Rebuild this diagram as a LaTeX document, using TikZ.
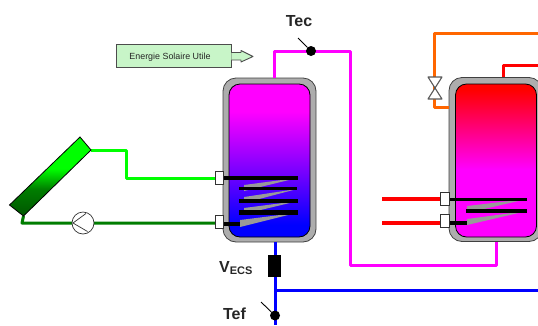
\documentclass[tikz,border=0pt]{standalone}
\usepackage{fontspec}
\setmainfont{Liberation Sans}
\definecolor{puremag}{RGB}{255,0,255}
\definecolor{pipeorange}{RGB}{255,102,0}
\definecolor{pipedark}{RGB}{0,125,0}
\definecolor{pipelight}{RGB}{0,255,0}
\definecolor{panelend}{RGB}{0,90,0}
\definecolor{boxgreen}{RGB}{200,245,200}
\pgfdeclareverticalshading{tankblue}{100bp}{color(0bp)=(blue);color(29bp)=(blue);color(66bp)=(puremag);color(100bp)=(puremag)}
\pgfdeclareverticalshading{tankred}{100bp}{color(0bp)=(puremag);color(47bp)=(puremag);color(73bp)=(red);color(100bp)=(red)}
\pgfdeclareverticalshading{panel}{100bp}{color(0bp)=(panelend);color(27bp)=(panelend);color(42bp)=(pipedark);color(55bp)=(pipelight);color(100bp)=(pipelight)}
\tikzset{
  shell/.style={draw=black!75,line width=0.8pt,fill=black!32,rounded corners=13pt,minimum width=93pt,minimum height=164pt,inner sep=0pt},
  core/.style={draw=black,line width=0.8pt,rounded corners=11pt,minimum width=81pt,inner sep=0pt},
  pipe/.style={line width=3pt,line join=round},
  port/.style={draw=black!80,fill=white,line width=0.7pt,minimum width=8.5pt,minimum height=13pt,inner sep=0pt},
  coilbar/.style={draw=black,line cap=butt},
  coilback/.style={fill=black!40,draw=none},
  probe/.style={circle,fill=black,minimum size=10pt,inner sep=0pt},
  lbl/.style={font=\bfseries\fontsize{16}{16}\selectfont,inner sep=0pt,text=black!85},
  valvepart/.style={draw=black!65,fill=white,line width=1.1pt,line join=round},
}
\begin{document}
\begin{tikzpicture}[x=1pt,y=-1pt]
\useasboundingbox (0,0) rectangle (538,325);
\clip (0,0) rectangle (538,325);
% named points
\coordinate (tecstub) at (274,51);
\coordinate (pa) at (350,51);
\coordinate (pb) at (350,265);
\coordinate (pc) at (496,265);
\coordinate (oa) at (538,33.5);
\coordinate (ob) at (434,33.5);
\coordinate (oc) at (434,107);
\coordinate (ra) at (538,65);
\coordinate (rb) at (503,65);
\coordinate (ca) at (126,150);
\coordinate (cb) at (126,178);
\coordinate (da) at (22,223);
\coordinate (cwa) at (382,199);
\coordinate (cwb) at (382,223);
\coordinate (ba) at (275,290);
\coordinate (bb) at (538,290);
\coordinate (bc) at (275,325);
% tanks
\node[shell] (tankA) at (269.5,160) {};
\node[shell] (tankB) at (495.5,159.5) {};
% pipes behind
\draw[pipe,puremag] (tankA.north -| tecstub) -- (tecstub) -- (pa) -- (pb) -- (pc) -- (tankB.south -| pc);
\draw[pipe,pipeorange] (oa) -- (ob) -- (oc) -- (tankB.west |- oc);
\draw[pipe,red] (ra) -- (rb) -- (tankB.north -| rb);
\draw[pipe,blue] (tankA.south -| ba) -- (bc);
\draw[pipe,blue] (ba) -- (bb);
% tank interiors
\node[core,minimum height=153pt,shading=tankblue] (coreA) at (269.5,160.5) {};
\node[core,minimum height=153pt,shading=tankred] (coreB) at (496,160.5) {};
% coil A
\fill[coilback] (240,220) -- (296,213) -- (240,227) -- cycle;
\fill[coilback] (244,208) -- (298,201) -- (244,214) -- cycle;
\fill[coilback] (244,197) -- (297,189) -- (244,203) -- cycle;
\fill[coilback] (244,185) -- (297,178) -- (244,191) -- cycle;
\draw[coilbar,line width=4pt] (224,177.7) -- (298,177.7);
\draw[coilbar,line width=3pt] (239,188.8) -- (297,188.8);
\draw[coilbar,line width=4pt] (239,200.7) -- (298,200.7);
\draw[coilbar,line width=5pt] (239,212) -- (298,212);
\draw[coilbar,line width=4pt] (224,223.7) -- (240,223.7);
% coil B
\fill[coilback] (467,219) -- (527,211) -- (467,225) -- cycle;
\fill[coilback] (467,206) -- (527,199) -- (467,213) -- cycle;
\draw[coilbar,line width=3pt] (449,199.5) -- (527,199.5);
\draw[coilbar,line width=3.5pt] (466,211) -- (527,211);
\draw[coilbar,line width=4pt] (449,223) -- (467,223);
% external pipes to ports
\node[port] (pA1) at (219.5,177.5) {};
\node[port] (pA2) at (219.5,222) {};
\node[port] (pB1) at (445,199) {};
\node[port] (pB2) at (445,221) {};
\draw[pipe,red,line width=3.6pt] (cwa) -- (pB1.west |- cwa);
\draw[pipe,red,line width=3.6pt] (cwb) -- (pB2.west |- cwb);
% collector
\coordinate (c1) at (80,137);
\coordinate (c2) at (91,150);
\coordinate (c3) at (23.5,216);
\coordinate (c4) at (9.5,205);
\draw[pipe,pipelight] (c2) -- (ca) -- (cb) -- (pA1.west |- cb);
\draw[pipe,pipedark] (c3) -- (da) -- (pA2.west |- da);
\shade[draw=black,line width=0.8pt,shading=panel] (c1) -- (c2) -- (c3) -- (c4) -- cycle;
% pump
\node[circle,draw=black!80,fill=white,line width=0.7pt,minimum size=22pt,inner sep=0pt] (pump) at (83,223) {};
\draw[black!80,line width=0.7pt] (pump.north east) ++(-5,-1.5) -- (73,223) -- ++(14.5,8.5);
% energy label
\node[draw=black!70,line width=0.9pt,fill=boxgreen,minimum width=115pt,minimum height=22.5pt,inner sep=0pt] (energy) at (173.5,56) {};
\node[font=\fontsize{8.9}{9}\selectfont,text=black!85,inner sep=0pt] (energytxt) at (170,57.3) {Energie Solaire Utile};
\draw[draw=black!70,line width=0.9pt,fill=boxgreen,line join=round] (energy.east |- 0,52.5) -- (241,52.5) -- (241,50.5) -- (253,56.5) -- (241,62) -- (241,60) -- (energy.east |- 0,60);
% valve on orange
\draw[valvepart] (428,77) -- (442,77) -- (428,99) -- (442,99) -- cycle;
% flow meter
\node[draw=black,fill=black,minimum width=12pt,minimum height=21pt,inner sep=0pt] (vecs) at (274.5,266) {};
% probes
\node[probe] (tec) at (311,51) {};
\coordinate (tecflag) at (298,38);
\draw[black,line width=0.9pt] (tec) -- (tecflag);
\node[probe] (tef) at (275,315.5) {};
\coordinate (tefflag) at (261,302);
\draw[black,line width=0.9pt] (tef) -- (tefflag);
% labels
\node[lbl,anchor=center] (ltec) at (299,21) {Tec};
\node[lbl,anchor=center] (ltef) at (234.5,313.5) {Tef};
\node[lbl,anchor=west] (lvecs) at (219,268) {V\raisebox{-2pt}{\fontsize{11}{11}\selectfont ECS}};
\end{tikzpicture}
\end{document}
